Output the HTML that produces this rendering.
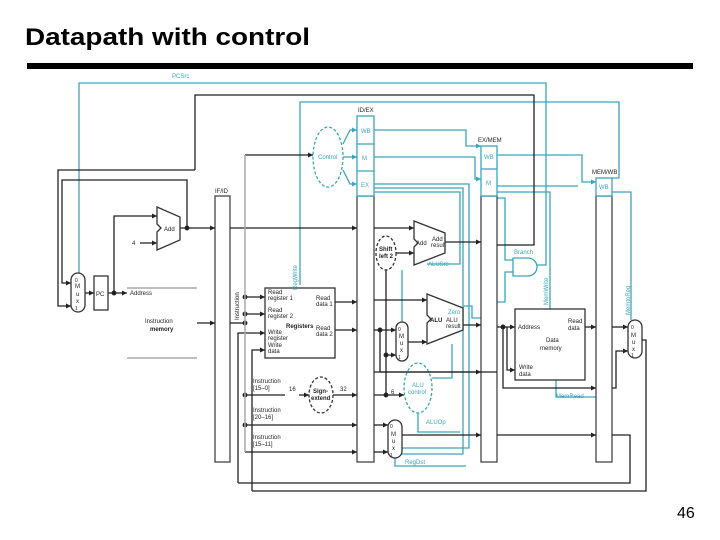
<!DOCTYPE html>
<html><head><meta charset="utf-8"><style>
html,body{margin:0;padding:0;background:#fff;}
svg{display:block;font-family:"Liberation Sans",sans-serif;}
</style></head><body>
<svg width="720" height="540" viewBox="0 0 720 540" xmlns="http://www.w3.org/2000/svg">
<defs>
<marker id="a" markerWidth="6" markerHeight="6" refX="5" refY="3" orient="auto" markerUnits="userSpaceOnUse"><path d="M0,0.5 L5,3 L0,5.5z" fill="#222"/></marker>
<marker id="t" markerWidth="6" markerHeight="6" refX="5" refY="3" orient="auto" markerUnits="userSpaceOnUse"><path d="M0,0.5 L5,3 L0,5.5z" fill="#3aa6bd"/></marker>
</defs>
<text x="25" y="45" font-size="24" font-weight="bold" fill="#000" textLength="285" lengthAdjust="spacingAndGlyphs">Datapath with control</text>
<rect x="27" y="63" width="666" height="6" fill="#000"/>
<text x="677" y="518" font-size="16" fill="#000">46</text>

<g fill="none" stroke-width="1.3">
<g stroke="#3aa6bd">
<polyline points="79,275 79,83 546,83 546,265 537,265"/>
<polyline points="300,285 300,102 619,102 619,178 612,178"/>
<polyline points="374,130 466,130 466,146 481,146" marker-end="url(#t)"/>
<polyline points="374,157 475,157 475,179 481,179" marker-end="url(#t)"/>
<polyline points="497,155 582,155 582,182 596,182" marker-end="url(#t)"/>
<polyline points="374,184 469,184 469,448 402,448"/>
<polyline points="374,188 463,188 463,454 402,454"/>
<polyline points="374,192 460,192 460,264 427,264"/>
<polyline points="497,186 578,186"/>
<polyline points="497,192 550,192 550,309"/>
<polyline points="497,198 505,198 505,260 513,260"/>
<polyline points="513,272 505,272 505,302 497,302"/>
<polyline points="612,192 631,192 631,320"/>
<polyline points="463,306 472,306 472,318 481,318"/>
<polyline points="402,270 402,322"/>
<polyline points="452,344 452,378 432,378"/>
<polyline points="418,413 418,432 460,432"/>
<polyline points="395,458 395,466 466,466"/>
<polyline points="556,380 556,397 596,397"/>
<polyline points="343,144 350,130 357,130" marker-end="url(#t)"/>
<polyline points="343,157 357,157" marker-end="url(#t)"/>
<polyline points="343,170 350,184 357,184" marker-end="url(#t)"/>
<ellipse cx="328" cy="157" rx="15" ry="30" stroke-dasharray="3,2"/>
<ellipse cx="418" cy="388" rx="14" ry="25" stroke-dasharray="3,2"/>
<path d="M513,258 L528,258 A9,9 0 0 1 528,276 L513,276z"/>
</g>
<g stroke="#444" fill="#fff">
<rect x="215" y="196" width="15" height="266"/>
<rect x="357" y="196" width="17" height="266"/>
<rect x="481" y="196" width="16" height="266"/>
<rect x="596" y="196" width="16" height="266"/>
</g>
<g stroke="#3aa6bd" fill="#fff">
<rect x="357" y="116" width="17" height="80"/><line x1="357" y1="144" x2="374" y2="144"/><line x1="357" y1="171" x2="374" y2="171"/>
<rect x="481" y="146" width="16" height="50"/><line x1="481" y1="169" x2="497" y2="169"/>
<rect x="596" y="178" width="16" height="18"/>
</g>
<g stroke="#222">
<polyline points="195,170 195,95 534,95 534,245 497,245"/>
<polyline points="195,170 58,170 58,306 71,306" marker-end="url(#a)"/>
<polyline points="187,228 187,180 62,180 62,283 71,283" marker-end="url(#a)"/>
<polyline points="180,228 215,228" marker-end="url(#a)"/>
<polyline points="230,228 357,228" marker-end="url(#a)"/>
<polyline points="374,228 414,228" marker-end="url(#a)"/>
<polyline points="85,293 94,293" marker-end="url(#a)"/>
<polyline points="108,293 127,293" marker-end="url(#a)"/>
<polyline points="114,293 114,216 157,216" marker-end="url(#a)"/>
<polyline points="140,243 157,243" marker-end="url(#a)"/>
<polyline points="197,323 215,323" marker-end="url(#a)"/>
<polyline points="230,323 245,323"/>
<polyline points="245,297 265,297" marker-end="url(#a)"/>
<polyline points="245,314 265,314" marker-end="url(#a)"/>
<polyline points="238,483 238,333 265,333" marker-end="url(#a)"/>
<polyline points="252,491 252,350 265,350" marker-end="url(#a)"/>
<polyline points="245,155 313,155" marker-end="url(#a)"/>
<polyline points="335,302 357,302" marker-end="url(#a)"/>
<polyline points="335,330 357,330" marker-end="url(#a)"/>
<polyline points="245,395 285,395"/>
<polyline points="299,395 309,395" marker-end="url(#a)"/>
<polyline points="333,395 357,395" marker-end="url(#a)"/>
<polyline points="245,425 357,425" marker-end="url(#a)"/>
<polyline points="245,452 357,452" marker-end="url(#a)"/>
<polyline points="374,300 427,300" marker-end="url(#a)"/>
<polyline points="374,330 396,330" marker-end="url(#a)"/>
<polyline points="380,330 380,372 497,372"/>
<polyline points="374,395 404,395" marker-end="url(#a)"/>
<polyline points="386,270 386,395"/>
<polyline points="386,355 396,355" marker-end="url(#a)"/>
<polyline points="374,425 388,425" marker-end="url(#a)"/>
<polyline points="374,452 388,452" marker-end="url(#a)"/>
<polyline points="396,253 414,253" marker-end="url(#a)"/>
<polyline points="445,242 481,242" marker-end="url(#a)"/>
<polyline points="408,342 427,342" marker-end="url(#a)"/>
<polyline points="463,325 481,325" marker-end="url(#a)"/>
<polyline points="402,435 481,435" marker-end="url(#a)"/>
<polyline points="374,372 481,372" marker-end="url(#a)"/>
<polyline points="497,327 515,327" marker-end="url(#a)"/>
<polyline points="503,327 503,388 596,388" marker-end="url(#a)"/>
<polyline points="507,327 507,370 515,370" marker-end="url(#a)"/>
<polyline points="585,327 596,327" marker-end="url(#a)"/>
<polyline points="497,435 596,435" marker-end="url(#a)"/>
<polyline points="612,327 628,327" marker-end="url(#a)"/>
<polyline points="612,388 616,388 616,351 628,351" marker-end="url(#a)"/>
<polyline points="612,435 630,435 630,483 238,483"/>
<polyline points="642,340 646,340 646,491 252,491"/>
<circle cx="187" cy="228" r="1.8" fill="#222"/><circle cx="114" cy="293" r="1.8" fill="#222"/>
<circle cx="245" cy="297" r="1.8" fill="#222"/><circle cx="245" cy="314" r="1.8" fill="#222"/><circle cx="245" cy="323" r="1.8" fill="#222"/>
<circle cx="245" cy="395" r="1.8" fill="#222"/><circle cx="245" cy="425" r="1.8" fill="#222"/>
<circle cx="380" cy="330" r="1.8" fill="#222"/><circle cx="386" cy="355" r="1.8" fill="#222"/><circle cx="386" cy="395" r="1.8" fill="#222"/>
<circle cx="503" cy="327" r="1.8" fill="#222"/>
</g>
<polyline points="245,155 245,452" stroke="#aaa" stroke-width="1.5"/>
<g stroke="#333" fill="#fff">
<path d="M157,207 L180,217 L180,240 L157,250 L157,232 L161,228 L157,224z"/>
<rect x="71" y="273" width="14" height="39" rx="7"/>
<rect x="94" y="276" width="14" height="34"/>
<rect x="265" y="288" width="70" height="70"/>
<ellipse cx="321" cy="395" rx="12" ry="18" stroke-dasharray="3,2"/>
<ellipse cx="386" cy="253" rx="10" ry="17" stroke-dasharray="3,2"/>
<path d="M414,221 L445,233 L445,253 L414,265 L414,247 L418,243 L414,239z"/>
<path d="M427,294 L463,308 L463,330 L427,344 L427,323 L431,319 L427,315z"/>
<rect x="396" y="322" width="12" height="39" rx="6"/>
<rect x="388" y="420" width="14" height="38" rx="7"/>
<rect x="515" y="309" width="70" height="71"/>
<rect x="628" y="320" width="14" height="38" rx="7"/>
</g>
<g stroke="#999"><line x1="127" y1="288" x2="197" y2="288"/><line x1="127" y1="358" x2="197" y2="358"/></g>
</g>

<g font-size="6" fill="#222">
<text x="172" y="78" fill="#3aa6bd">PCSrc</text>
<text x="215" y="193">IF/ID</text>
<text x="358" y="112">ID/EX</text>
<text x="478" y="142">EX/MEM</text>
<text x="592" y="174">MEM/WB</text>
<text x="361" y="133" fill="#3aa6bd">WB</text><text x="362" y="160" fill="#3aa6bd">M</text><text x="361" y="187" fill="#3aa6bd">EX</text>
<text x="484" y="159" fill="#3aa6bd">WB</text><text x="486" y="185" fill="#3aa6bd">M</text><text x="599" y="189" fill="#3aa6bd">WB</text>
<text x="318" y="159" fill="#3aa6bd">Control</text>
<text x="164" y="231">Add</text><text x="132" y="245">4</text>
<text x="75" y="288">M</text><text x="76" y="296">u</text><text x="76" y="303">x</text><text x="75" y="282" font-size="5">0</text><text x="75" y="310" font-size="5">1</text>
<text x="96" y="296">PC</text>
<text x="130" y="295">Address</text>
<text x="145" y="323">Instruction</text><text x="150" y="331" font-weight="bold">memory</text>
<text x="268" y="294">Read</text><text x="268" y="300">register 1</text>
<text x="268" y="312">Read</text><text x="268" y="318">register 2</text>
<text x="268" y="334">Write</text><text x="268" y="340">register</text>
<text x="268" y="347">Write</text><text x="268" y="353">data</text>
<text x="316" y="300">Read</text><text x="316" y="306">data 1</text>
<text x="286" y="328" font-weight="bold">Registers</text>
<text x="316" y="330">Read</text><text x="316" y="336">data 2</text>
<text x="253" y="383">Instruction</text><text x="253" y="390">[15–0]</text>
<text x="289" y="391">16</text><text x="340" y="391">32</text>
<text x="313" y="393" font-weight="bold">Sign-</text><text x="311" y="400" font-weight="bold">extend</text>
<text x="253" y="412">Instruction</text><text x="253" y="419">[20–16]</text>
<text x="253" y="439">Instruction</text><text x="253" y="446">[15–11]</text>
<text x="379" y="251" font-weight="bold">Shift</text><text x="379" y="258" font-weight="bold">left 2</text>
<text x="416" y="245">Add</text><text x="432" y="241">Add</text><text x="431" y="247">result</text>
<text x="428" y="266" fill="#3aa6bd">ALUSrc</text>
<text x="430" y="322" font-weight="bold">ALU</text><text x="446" y="322">ALU</text><text x="446" y="328">result</text>
<text x="448" y="314" fill="#3aa6bd">Zero</text>
<text x="398" y="331" font-size="5">0</text><text x="399" y="338">M</text><text x="400" y="345">u</text><text x="400" y="352">x</text><text x="398" y="359" font-size="5">1</text>
<text x="412" y="387" fill="#3aa6bd">ALU</text><text x="408" y="394" fill="#3aa6bd">control</text>
<text x="391" y="394">6</text>
<text x="426" y="424" fill="#3aa6bd">ALUOp</text>
<text x="390" y="428" font-size="5">0</text><text x="391" y="436">M</text><text x="392" y="443">u</text><text x="392" y="450">x</text><text x="390" y="457" font-size="5">1</text>
<text x="405" y="464" fill="#3aa6bd">RegDst</text>
<text x="514" y="254" fill="#3aa6bd">Branch</text>
<text x="518" y="329">Address</text><text x="568" y="323">Read</text><text x="568" y="330">data</text>
<text x="546" y="342">Data</text><text x="540" y="350">memory</text>
<text x="519" y="369">Write</text><text x="519" y="376">data</text>
<text x="556" y="398" fill="#3aa6bd">MemRead</text>
<text x="631" y="329" font-size="5">0</text><text x="631" y="337">M</text><text x="632" y="344">u</text><text x="632" y="351">x</text><text x="631" y="357" font-size="5">1</text>
</g>
<g font-size="6" fill="#3aa6bd">
<text transform="translate(297,290) rotate(-90)">RegWrite</text>
<text transform="translate(548,305) rotate(-90)">MemWrite</text>
<text transform="translate(630,315) rotate(-90)">MemtoReg</text>
</g>
<text transform="translate(239,320) rotate(-90)" font-size="6" fill="#222">Instruction</text>
</svg>
</body></html>
